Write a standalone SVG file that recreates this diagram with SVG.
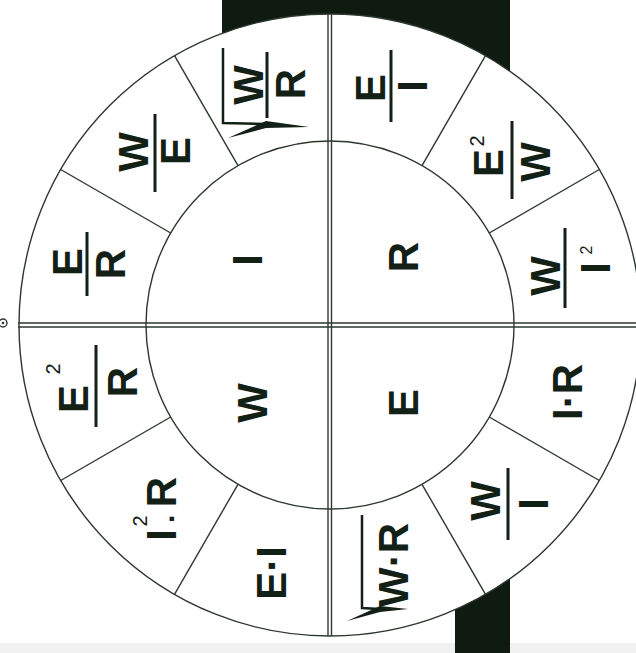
<svg xmlns="http://www.w3.org/2000/svg" width="636" height="653" viewBox="0 0 636 653">
<style>
.ln{stroke:#2b382e;stroke-width:1.4;fill:none}
.bar{stroke:#132016;stroke-width:3;fill:none}
.t{font-family:"Liberation Sans",Arial,sans-serif;font-weight:bold;font-size:42px;fill:#132016;text-anchor:middle}
.s{font-family:"Liberation Sans",Arial,sans-serif;font-weight:normal;font-size:20px;fill:#132016;text-anchor:middle}
.rad{stroke:#132016;stroke-width:2.5;fill:none;stroke-linejoin:miter}
</style>
<rect width="636" height="653" fill="#ffffff"/>
<rect x="0" y="643" width="636" height="10" fill="#f1f1f1"/>
<g id="binding">
<rect x="222" y="0" width="288" height="120" fill="#0f1a11"/>
<rect x="455" y="540" width="55" height="113" fill="#0f1a11"/>
</g>
<g id="wheel">
<circle cx="330" cy="325" r="311" style="fill:#ffffff;stroke:#2b382e;stroke-width:1.4"/>
<circle cx="330" cy="325" r="184" class="ln"/>
<circle cx="3" cy="323" r="4" class="ln"/>
<circle cx="3" cy="323" r="1.3" style="fill:#2b382e"/>
</g>
<g id="connectors">
<line class="ln" x1="328" y1="14" x2="328" y2="636"/>
<line class="ln" x1="331.5" y1="14" x2="331.5" y2="636"/>
<line class="ln" x1="18" y1="323" x2="636" y2="323"/>
<line class="ln" x1="18" y1="327" x2="636" y2="327"/>
<line class="ln" x1="422" y1="165.7" x2="485.5" y2="55.7"/>
<line class="ln" x1="489.3" y1="233" x2="599.3" y2="169.5"/>
<line class="ln" x1="489.3" y1="417" x2="599.3" y2="480.5"/>
<line class="ln" x1="422" y1="484.3" x2="485.5" y2="594.3"/>
<line class="ln" x1="238" y1="484.3" x2="174.5" y2="594.3"/>
<line class="ln" x1="170.7" y1="417" x2="60.7" y2="480.5"/>
<line class="ln" x1="170.7" y1="233" x2="60.7" y2="169.5"/>
<line class="ln" x1="238" y1="165.7" x2="174.5" y2="55.7"/>
</g>
<g id="inner-I" transform="translate(262,260) rotate(-90)"><text class="t">I</text></g>
<g id="inner-R" transform="translate(418,257) rotate(-90)"><text class="t">R</text></g>
<g id="inner-W" transform="translate(267,403) rotate(-90)"><text class="t">W</text></g>
<g id="inner-E" transform="translate(418,403) rotate(-90)"><text class="t">E</text></g>

<g id="E-over-I" transform="translate(391,86) rotate(-90)">
<line class="bar" x1="-36" y1="0" x2="36" y2="0"/>
<text class="t" x="-2" y="-6">E</text>
<text class="t" x="0" y="36">I</text>
</g>
<g id="E2-over-W" transform="translate(512,160) rotate(-90)">
<line class="bar" x1="-39" y1="0" x2="39" y2="0"/>
<text class="t" x="-3" y="-9">E</text>
<text class="s" x="19" y="-28">2</text>
<text class="t" x="-2" y="38">W</text>
</g>
<g id="W-over-I2" transform="translate(565,268) rotate(-90)">
<line class="bar" x1="-40" y1="0" x2="40" y2="0"/>
<text class="t" x="-8" y="-5">W</text>
<text class="t" x="0" y="45">I</text>
<text class="s" x="18" y="27" style="font-size:16px">2</text>
</g>
<g id="I-times-R" transform="translate(582,392) rotate(-90)"><text class="t">I·R</text></g>
<g id="W-over-I" transform="translate(508,504) rotate(-90)">
<line class="bar" x1="-36" y1="0" x2="36" y2="0"/>
<text class="t" x="3" y="-8">W</text>
<text class="t" x="0" y="40">I</text>
</g>
<g id="sqrt-W-R">
<path class="rad" d="M362,515 V608 L380,609"/>
<path d="M347,621 L380,612 L408,609 L380,606 Z" style="fill:#132016"/>
<g transform="translate(408,565) rotate(-90)"><text class="t">W·R</text></g>
</g>
<g id="E-times-I" transform="translate(286,573) rotate(-90)"><text class="t">E·I</text></g>
<g id="I2-times-R" transform="translate(176,507) rotate(-90)">
<text class="t" x="-28">I</text>
<text class="s" x="-14" y="-29">2</text>
<text class="t" x="-11" y="6" style="font-size:30px">·</text>
<text class="t" x="15">R</text>
</g>
<g id="E2-over-R" transform="translate(96,386) rotate(-90)">
<line class="bar" x1="-41" y1="0" x2="41" y2="0"/>
<text class="t" x="-13" y="-8">E</text>
<text class="s" x="17" y="-36">2</text>
<text class="t" x="4" y="41">R</text>
</g>
<g id="E-over-R" transform="translate(87,264) rotate(-90)">
<line class="bar" x1="-32" y1="0" x2="32" y2="0"/>
<text class="t" x="2" y="-5">E</text>
<text class="t" x="0" y="38">R</text>
</g>
<g id="W-over-E" transform="translate(155,153) rotate(-90)">
<line class="bar" x1="-39" y1="0" x2="39" y2="0"/>
<text class="t" x="1" y="-7">W</text>
<text class="t" x="2" y="35">E</text>
</g>
<g id="sqrt-W-over-R">
<path class="rad" d="M223,48 V123 L266,124"/>
<path d="M228,138 L266,128 L309,127 L266,121 Z" style="fill:#132016"/>
<g transform="translate(267,85) rotate(-90)">
<line class="bar" x1="-33" y1="0" x2="33" y2="0"/>
<text class="t" x="0" y="-4">W</text>
<text class="t" x="1" y="38">R</text>
</g>
</g>
</svg>
